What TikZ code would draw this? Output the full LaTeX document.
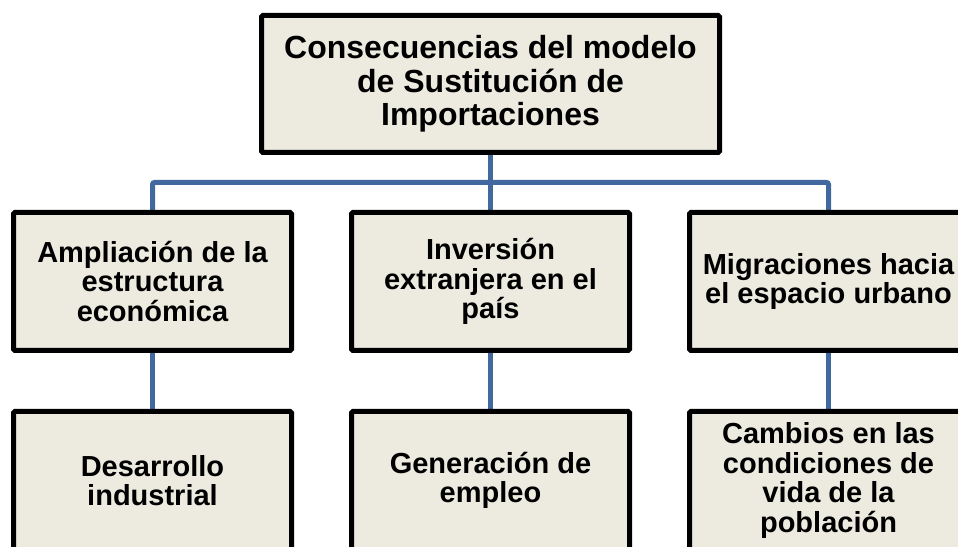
\documentclass[tikz,border=0pt]{standalone}
\usepackage{fontspec}
\setmainfont{Liberation Sans}
\usetikzlibrary{backgrounds}
\definecolor{boxfill}{RGB}{237,235,224}
\definecolor{connblue}{RGB}{65,105,160}
\tikzset{
  box/.style={draw=black, line width=5pt, fill=boxfill, rounded corners=1.5pt,
    minimum width=278pt, minimum height=138pt, inner sep=0pt, align=center,
    font=\bfseries\fontsize{29}{29.5}\selectfont},
  topbox/.style={box, minimum width=458pt, minimum height=137pt,
    font=\bfseries\fontsize{32}{33.5}\selectfont},
  conn/.style={draw=connblue, line width=5pt, rounded corners=2pt}
}
\begin{document}
\begin{tikzpicture}[x=1pt,y=1pt]
\useasboundingbox (0,0) rectangle (958,546);
\clip (0,0) rectangle (958,546);
\node[topbox] (top) at (490.5,462) {Consecuencias del modelo\\de Sustitución de\\Importaciones};
\node[box] (a1) at (152.5,264.5) {Ampliación de la\\estructura\\económica};
\node[box] (b1) at (490.5,264.5) {Inversión\\extranjera en el\\país};
\node[box] (c1) at (828.5,264.5) {Migraciones hacia\\el espacio urbano};
\node[box] (a2) at (152.5,65.5) {Desarrollo\\industrial};
\node[box] (b2) at (490.5,65.5) {Generación de\\empleo};
\node[box] (c2) at (828.5,65.5) {Cambios en las\\condiciones de\\vida de la\\población};
\coordinate (bus) at (0,363.5);
\begin{scope}[on background layer]
\draw[conn] (top.south) -- (top.south |- bus);
\draw[conn] (a1.north) -- (a1.north |- bus) -- (c1.north |- bus) -- (c1.north);
\draw[conn] (b1.north) -- (b1.north |- bus);
\draw[conn] (a1.south) -- (a2.north);
\draw[conn] (b1.south) -- (b2.north);
\draw[conn] (c1.south) -- (c2.north);
\end{scope}
\end{tikzpicture}
\end{document}
